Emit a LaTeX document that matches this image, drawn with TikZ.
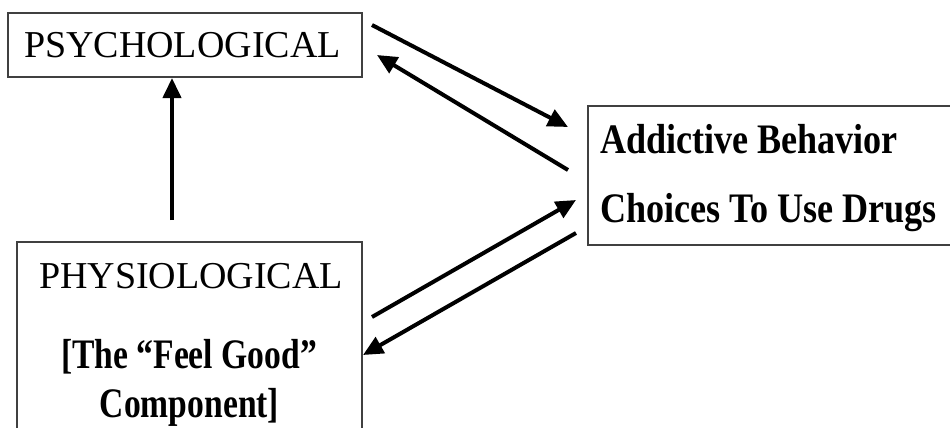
\documentclass[tikz,border=0pt]{standalone}
\usepackage{fontspec}
\setmainfont{Liberation Serif}
\usetikzlibrary{arrows.meta}
\tikzset{
  boxline/.style={draw=black!75, line width=1.5pt},
  lbl/.style={anchor=base west, inner sep=0pt, outer sep=0pt},
  arr/.style={line width=4pt, -{Triangle[length=20pt,width=18pt]}},
}
\newcommand{\regtext}[1]{\fontsize{38}{44}\selectfont #1}
\newcommand{\boldnarrow}[2]{\scalebox{#1}[1]{\fontsize{42}{48}\selectfont\bfseries #2}}
\begin{document}
\begin{tikzpicture}[x=1pt,y=-1pt]
\useasboundingbox (0,0) rectangle (950,428);
\clip (0,0) rectangle (950,428);
\fill[white] (0,0) rectangle (950,428);
% boxes
\node[boxline, rectangle, inner sep=0pt, minimum width=354pt, minimum height=64pt] (psych) at (185,45) {};
\node[boxline, rectangle, inner sep=0pt, minimum width=345pt, minimum height=200pt] (phys) at (189.5,342) {};
\node[boxline, rectangle, inner sep=0pt, minimum width=380pt, minimum height=139pt] (addict) at (778,175.5) {};
% texts
\node[lbl] (psychT) at (24,57) {\regtext{PSYCHOLOGICAL}};
\node[lbl] (physT) at (39,288) {\regtext{PHYSIOLOGICAL}};
\node[anchor=base, inner sep=0pt] (feel) at (189,368) {\boldnarrow{0.8}{[The “Feel Good”}};
\node[anchor=base, inner sep=0pt] (comp) at (189.5,417) {\boldnarrow{0.8}{Component]}};
\node[lbl] (addT) at (600,153) {\boldnarrow{0.86}{Addictive Behavior}};
\node[lbl] (choT) at (600,222) {\boldnarrow{0.86}{Choices To Use Drugs}};
% arrow end points
\coordinate (p1s) at (372,25);
\coordinate (p1e) at (568,127);
\coordinate (p2s) at (568,170);
\coordinate (p2e) at (377,55);
\coordinate (p3s) at (372,317);
\coordinate (p3e) at (576,200);
\coordinate (p4s) at (576,233);
\coordinate (p4e) at (363,355);
\coordinate (p5s) at (172,220);
\coordinate (p5e) at (172,78);
\draw[arr] (p1s) -- (p1e);
\draw[arr] (p2s) -- (p2e);
\draw[arr] (p3s) -- (p3e);
\draw[arr] (p4s) -- (p4e);
\draw[arr] (p5s) -- (p5e);
\end{tikzpicture}
\end{document}
